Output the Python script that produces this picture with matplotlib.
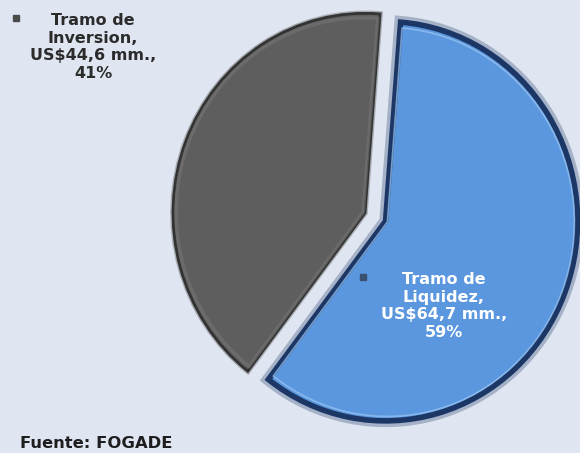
import matplotlib.pyplot as plt
import matplotlib.patheffects as pe

labels = ['Tramo de\nLiquidez,\nUS$64,7 mm.,\n59%', 'Tramo de\nInversion,\nUS$44,6 mm.,\n41%']
values = [64.7, 44.6]
colors = ['#5a97de', '#5e5e5e']
source = 'Fuente: FOGADE'

bg = '#dfe6f1'
W, H = 580, 453
SY = 1.04  # the original pie is slightly taller than wide


def py(p):
    # pixel row (from top) -> data y
    return (H - p) / SY


fig = plt.figure(figsize=(5.8, 4.53), dpi=100, facecolor=bg)
ax = fig.add_axes([0, 0, 1, 1])
ax.set_facecolor(bg)

center = (365, py(213))
wedges, _ = ax.pie(values, colors=colors, startangle=85.5, counterclock=False,
                   explode=[22, 0], center=center, radius=192,
                   wedgeprops=dict(linewidth=2))
# inner bevel highlight
hl, _ = ax.pie(values, startangle=85.5, counterclock=False,
               explode=[24, 2], center=center, radius=187,
               wedgeprops=dict(facecolor='none', linewidth=1.2))

# pie() resets the limits, so set the pixel-like frame afterwards
ax.set_xlim(0, W)
ax.set_ylim(0, H / SY)
ax.set_aspect('auto')
ax.axis('off')

# blue slice: dark navy rim with soft glow
wedges[0].set_edgecolor('#1c3766')
wedges[0].set_linewidth(4)
wedges[0].set_path_effects([pe.Stroke(linewidth=9, foreground='#1c3766', alpha=0.3), pe.Normal()])
hl[0].set_edgecolor('#9cc6f2')
hl[0].set_alpha(0.7)
# grey slice: dark outline, faint lighter bevel inside
wedges[1].set_edgecolor('#333333')
wedges[1].set_linewidth(2)
wedges[1].set_path_effects([pe.Stroke(linewidth=4, foreground='#555555', alpha=0.4), pe.Normal()])
hl[1].set_edgecolor('#747474')
hl[1].set_linewidth(2.5)
hl[1].set_alpha(0.6)

# label for grey slice (top-left)
ax.text(93, py(47), labels[1], ha='center', va='center', fontsize=11.5,
        fontweight='bold', color='#2b2b2b', linespacing=1.2)
ax.plot([16], [py(18)], marker='s', ms=5, color='#4a4a4a')

# label for blue slice
ax.text(444, py(306), labels[0], ha='center', va='center', fontsize=11.5,
        fontweight='bold', color='white', linespacing=1.2)
ax.plot([363], [py(277)], marker='s', ms=4, color='#3b4f6e')

ax.text(20, py(443), source, ha='left', va='center', fontsize=11.8,
        fontweight='bold', color='#1e1e1e')

fig.savefig('out.png', dpi=100, facecolor=bg)
